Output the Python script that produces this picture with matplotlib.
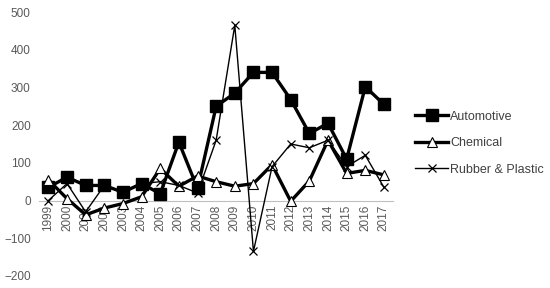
import matplotlib
matplotlib.use('Agg')
import matplotlib.pyplot as plt
import numpy as np

years = [str(y) for y in range(1999, 2018)]
automotive = [35, 62, 40, 40, 22, 45, 18, 155, 32, 250, 285, 340, 340, 268, 178, 205, 110, 302, 255]
chemical = [55, 5, -38, -20, -8, 10, 85, 38, 65, 50, 38, 45, 95, -2, 52, 160, 72, 80, 68]
rubber = [0, 45, -30, 40, 20, 45, 50, 40, 20, 160, 465, -135, 90, 150, 140, 160, 90, 120, 35]

plt.rcParams['font.family'] = ['Liberation Sans', 'DejaVu Sans']

fig = plt.figure(figsize=(5.5, 2.88), dpi=100)
ax = fig.add_axes([0.071, 0.042, 0.644, 0.916])
x = np.arange(len(years))

# x axis sits on the zero line (set before ticks, it resets them)
for s in ['top', 'right', 'left']:
    ax.spines[s].set_visible(False)
ax.spines['bottom'].set_position(('data', 0))
ax.spines['bottom'].set_color('#bfbfbf')
ax.spines['bottom'].set_zorder(0)

ax.plot(x, automotive, color='black', lw=2.4, marker='s', ms=8.5, mfc='black', mec='black', label='Automotive')
ax.plot(x, chemical, color='black', lw=2.4, marker='^', ms=7, mfc='white', mec='black', mew=0.8, label='Chemical')
ax.plot(x, rubber, color='black', lw=1.0, marker='x', ms=5.5, mew=0.9, label='Rubber & Plastic')

ax.set_xlim(-0.5, len(years) - 0.5)
ax.set_ylim(-200, 500)
ax.set_yticks(range(-200, 501, 100))
ax.set_xticks(x)
ax.set_xticklabels(years, rotation=90, fontsize=8.5, color='#595959')
ax.tick_params(axis='y', labelsize=8.5, colors='#595959', length=0, pad=6)
ax.tick_params(axis='x', length=0, pad=3)

ax.legend(loc='center left', bbox_to_anchor=(0.755, 0.503), bbox_transform=fig.transFigure,
          frameon=False, fontsize=9, labelcolor='#404040', handlelength=2.6,
          handletextpad=0.2, labelspacing=1.15, borderaxespad=0, borderpad=0)

fig.savefig('out.png', dpi=100)
